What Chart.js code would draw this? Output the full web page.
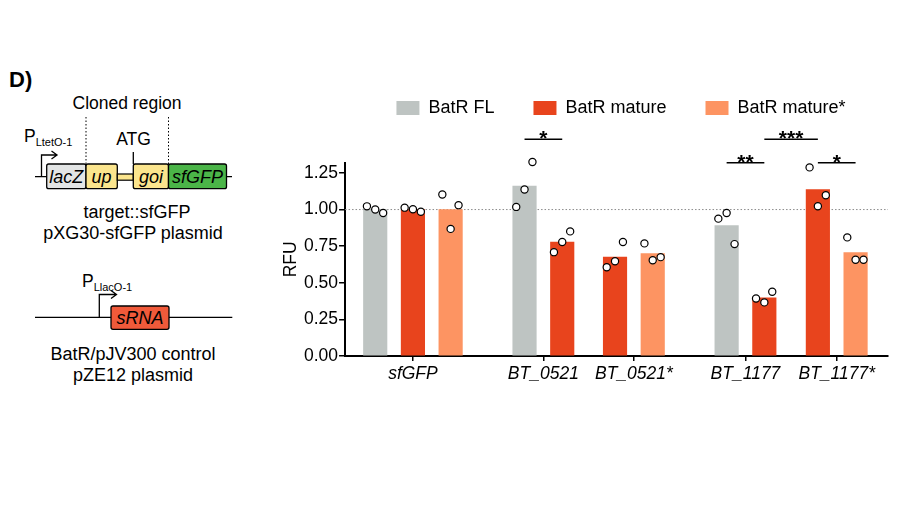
<!DOCTYPE html>
<html>
<head>
<meta charset="utf-8">
<script src="https://cdn.jsdelivr.net/npm/chart.js@4.4.1/dist/chart.umd.min.js"></script>
<style>
  html, body { margin: 0; padding: 0; background: #fff; width: 905px; height: 509px; overflow: hidden;
    font-family: "Liberation Sans", Arial, sans-serif; }
  #diagram { position: absolute; left: 0; top: 0; }
  #wrap { position: absolute; left: 274px; top: 89px; width: 620px; height: 304px; }
</style>
</head>
<body>

<svg id="diagram" width="265" height="400" font-family="Liberation Sans, Arial, sans-serif">
  <text x="9" y="87" font-size="22" font-weight="bold">D)</text>

  <!-- target construct -->
  <text x="127" y="109" font-size="17.5" text-anchor="middle">Cloned region</text>
  <line x1="86" y1="117" x2="86" y2="164" stroke="#000" stroke-width="1" stroke-dasharray="1.5,2"/>
  <line x1="168.5" y1="117" x2="168.5" y2="164" stroke="#000" stroke-width="1" stroke-dasharray="1.5,2"/>
  <text x="24" y="142" font-size="17.5">P<tspan font-size="11" dy="4">LtetO-1</tspan></text>
  <text x="133.5" y="144.5" font-size="17.5" text-anchor="middle">ATG</text>
  <line x1="133.3" y1="152" x2="133.3" y2="164" stroke="#000" stroke-width="1.3"/>
  <line x1="35" y1="176.7" x2="232" y2="176.7" stroke="#000" stroke-width="1.3"/>
  <path d="M41.5 176.7 V155 H57 M51.5 151 L57 155 L51.5 159" fill="none" stroke="#000" stroke-width="1.3"/>
  <rect x="46.7" y="164" width="39.3" height="24.7" rx="2" fill="#e3e5e5" stroke="#000" stroke-width="1.3"/>
  <rect x="86" y="164" width="31.3" height="24.7" rx="2" fill="#fbe58d" stroke="#000" stroke-width="1.3"/>
  <rect x="117.3" y="174" width="16" height="6.2" fill="#fbe58d" stroke="#000" stroke-width="1.2"/>
  <rect x="133.3" y="164" width="35.2" height="24.7" rx="2" fill="#fbe58d" stroke="#000" stroke-width="1.3"/>
  <rect x="168.5" y="164" width="58" height="24.7" rx="2" fill="#4bb548" stroke="#000" stroke-width="1.3"/>
  <g font-size="18" font-style="italic" text-anchor="middle">
    <text x="66.3" y="182.5">lacZ</text>
    <text x="101.6" y="182.5">up</text>
    <text x="151" y="182.5">goi</text>
    <text x="197.5" y="182.5">sfGFP</text>
  </g>
  <text x="137" y="218" font-size="18" text-anchor="middle">target::sfGFP</text>
  <text x="133" y="238.5" font-size="18" text-anchor="middle">pXG30-sfGFP plasmid</text>

  <!-- sRNA construct -->
  <text x="82" y="286.5" font-size="17.5">P<tspan font-size="11" dy="4">LlacO-1</tspan></text>
  <line x1="35" y1="317.3" x2="232.3" y2="317.3" stroke="#000" stroke-width="1.3"/>
  <path d="M99.3 317.3 V294.5 H116.5 M111 290.5 L116.5 294.5 L111 298.5" fill="none" stroke="#000" stroke-width="1.3"/>
  <rect x="111" y="306" width="58" height="23.3" rx="2" fill="#f05a3a" stroke="#000" stroke-width="1.3"/>
  <text x="140" y="324" font-size="18" font-style="italic" text-anchor="middle">sRNA</text>
  <text x="133" y="360" font-size="18" text-anchor="middle">BatR/pJV300 control</text>
  <text x="133" y="381" font-size="18" text-anchor="middle">pZE12 plasmid</text>
</svg>

<div id="wrap"><canvas id="c"></canvas></div>

<script>
// categories and series
const categories  = ['sfGFP', 'BT_0521', 'BT_0521*', 'BT_1177', 'BT_1177*'];
const seriesNames = ['BatR FL', 'BatR mature', 'BatR mature*'];

// bar heights (mean RFU), null = not measured
const flMean         = [1.00, 1.16, null, 0.89, null];
const matureMean     = [1.00, 0.778, 0.676, 0.398, 1.137];
const matureStarMean = [1.00, null, 0.70, null, 0.707];

// individual replicates
const flReps         = [[1.022, 1.000, 0.977], [1.018, 1.137, 1.325], null, [0.938, 0.977, 0.764], null];
const matureReps     = [[1.013, 1.002, 0.985], [0.709, 0.778, 0.851], [0.606, 0.647, 0.778], [0.393, 0.366, 0.439], [1.288, 1.023, 1.098]];
const matureStarReps = [[1.103, 0.868, 1.030], null, [0.769, 0.654, 0.675], null, [0.810, 0.657, 0.657]];

const yTicks   = [0, 0.25, 0.5, 0.75, 1, 1.25];
const refValue = 1.0;

// significance bars: [cat A, series A, cat B, series B, height, label]
const sigs = [
  [1, 0, 1, 1, 1.48, '*'],
  [3, 0, 3, 1, 1.32, '**'],
  [3, 1, 4, 1, 1.48, '***'],
  [4, 1, 4, 2, 1.32, '*']
];

// layout (in bar-slot units along x)
const groupPos = [1.8, 5.26, 7.66, 10.62, 13.04];
const xMax     = 14.4;
const jitter   = [-0.22, 0, 0.21];
const colors   = ['#bec4c2', '#e8441d', '#fd9462'];
const FONT     = '"Liberation Sans", Arial, sans-serif';

const means = [flMean, matureMean, matureStarMean];
const reps  = [flReps, matureReps, matureStarReps];

// bar centre: bars present in a group sit side by side around the group position
function barX(cat, s) {
  const present = [0, 1, 2].filter(k => means[k][cat] != null);
  const idx = present.indexOf(s);
  return groupPos[cat] + idx - (present.length - 1) / 2;
}

const barSets = means.map((arr, s) => ({
  type: 'bar',
  label: seriesNames[s],
  data: arr.map((v, i) => v == null ? null : { x: barX(i, s), y: v }).filter(Boolean),
  backgroundColor: colors[s],
  borderWidth: 0,
  barThickness: 23.5,
  grouped: false,
  order: 2
}));

const dotSets = reps.map((arr, s) => ({
  type: 'scatter',
  label: seriesNames[s] + ' reps',
  data: arr.flatMap((r, i) => r ? r.map((v, j) => ({ x: barX(i, s) + jitter[j], y: v })) : []),
  pointRadius: 3.6,
  pointBorderWidth: 1.2,
  pointBackgroundColor: '#fff',
  pointBorderColor: '#000',
  clip: false,
  order: 1
}));

const refLine = {
  id: 'refLine',
  beforeDatasetsDraw(chart) {
    const { ctx, chartArea, scales: { y } } = chart;
    const yy = y.getPixelForValue(refValue);
    ctx.save();
    ctx.strokeStyle = '#8a8a8a';
    ctx.lineWidth = 1;
    ctx.setLineDash([1.5, 2]);
    ctx.beginPath();
    ctx.moveTo(chartArea.left, yy);
    ctx.lineTo(chartArea.right, yy);
    ctx.stroke();
    ctx.restore();
  }
};

const sigPlugin = {
  id: 'sig',
  afterDatasetsDraw(chart) {
    const { ctx, scales: { x, y } } = chart;
    ctx.save();
    ctx.strokeStyle = '#000';
    ctx.fillStyle = '#000';
    ctx.lineWidth = 1.6;
    ctx.font = 'bold 21px ' + FONT;
    ctx.textAlign = 'center';
    ctx.textBaseline = 'alphabetic';
    sigs.forEach(([c1, s1, c2, s2, v, label]) => {
      const x1 = x.getPixelForValue(barX(c1, s1));
      const x2 = x.getPixelForValue(barX(c2, s2));
      const yy = y.getPixelForValue(v);
      ctx.beginPath();
      ctx.moveTo(x1, yy);
      ctx.lineTo(x2, yy);
      ctx.stroke();
      ctx.fillText(label, (x1 + x2) / 2, yy + 6);
    });
    ctx.restore();
  }
};

// legend: fixed height and a small shift to sit where the figure has it
const legendLayout = {
  id: 'legendLayout',
  beforeInit(chart) {
    const lg = chart.legend;
    const fit = lg.fit;
    lg.fit = function () { fit.call(this); this.height = 73.7; };
    const draw = lg.draw;
    lg.draw = function () {
      this.ctx.save();
      this.ctx.translate(40, -29);
      draw.call(this);
      this.ctx.restore();
    };
  }
};

new Chart(document.getElementById('c').getContext('2d'), {
  type: 'bar',
  data: { datasets: [...barSets, ...dotSets] },
  plugins: [legendLayout, refLine, sigPlugin],
  options: {
    responsive: true,
    maintainAspectRatio: false,
    animation: false,
    layout: { padding: { left: 0, right: 6, top: 0, bottom: 5 } },
    plugins: {
      tooltip: { enabled: false },
      legend: {
        position: 'top',
        labels: {
          boxWidth: 23,
          boxHeight: 14,
          padding: 39,
          color: '#000',
          font: { family: FONT, size: 18 },
          filter: item => item.datasetIndex < 3
        }
      }
    },
    scales: {
      x: {
        type: 'linear',
        min: 0,
        max: xMax,
        offset: false,
        afterBuildTicks: s => { s.ticks = groupPos.map(v => ({ value: v })); },
        ticks: {
          autoSkip: false,
          maxRotation: 0,
          padding: 3,
          color: '#000',
          font: { family: FONT, size: 17.5, style: 'italic' },
          callback: (v, i) => categories[i]
        },
        grid: { offset: false, drawOnChartArea: false, drawTicks: true, tickLength: 5, color: '#000', lineWidth: 1.5 },
        border: { display: true, color: '#000', width: 2 }
      },
      y: {
        min: 0,
        max: 1.32,
        afterBuildTicks: s => { s.ticks = yTicks.map(v => ({ value: v })); },
        ticks: {
          padding: 1,
          color: '#000',
          font: { family: FONT, size: 17.5 },
          callback: v => v.toFixed(2)
        },
        title: {
          display: true,
          text: 'RFU',
          color: '#000',
          font: { family: FONT, size: 17.5 },
          padding: { top: 7, bottom: 1 }
        },
        grid: { drawOnChartArea: false, drawTicks: true, tickLength: 6, color: '#000', lineWidth: 1.5 },
        border: { display: true, color: '#000', width: 2 }
      }
    }
  }
});
</script>
</body>
</html>
